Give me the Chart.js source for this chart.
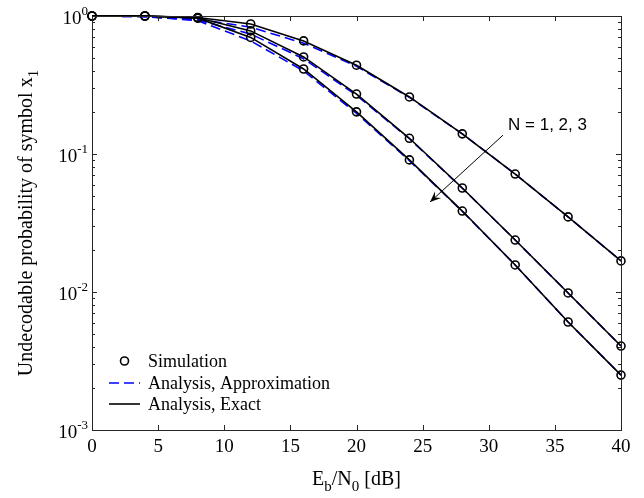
<!DOCTYPE html>
<html>
<head>
<meta charset="utf-8">
<script src="https://cdn.jsdelivr.net/npm/chart.js@4/dist/chart.umd.min.js"></script>
<style>
html,body{margin:0;padding:0;background:#fff;}
#c{display:block;}
</style>
</head>
<body>
<canvas id="c" width="644" height="498"></canvas>
<script>
// ---- data ----
const ebn0 = [0, 4, 8, 12, 16, 20, 24, 28, 32, 36, 40];
const simN1 = [1, 1, 0.975, 0.875, 0.66, 0.44, 0.259, 0.140, 0.0716, 0.035, 0.0168];
const simN2 = [1, 1, 0.97, 0.78, 0.505, 0.272, 0.130, 0.0567, 0.0238, 0.00984, 0.00406];
const simN3 = [1, 1, 0.965, 0.70, 0.413, 0.202, 0.0906, 0.0386, 0.0157, 0.00606, 0.0025];
const exactN1 = [1, 1, 0.975, 0.875, 0.66, 0.44, 0.259, 0.140, 0.0716, 0.035, 0.0168];
const exactN2 = [1, 1, 0.97, 0.78, 0.505, 0.272, 0.130, 0.0567, 0.0238, 0.00984, 0.00406];
const exactN3 = [1, 1, 0.965, 0.70, 0.413, 0.202, 0.0906, 0.0386, 0.0157, 0.00606, 0.0025];
const approxN1 = [1, 0.995, 0.95, 0.83, 0.635, 0.432, 0.257, 0.140, 0.0716, 0.035, 0.0168];
const approxN2 = [1, 0.99, 0.935, 0.74, 0.49, 0.266, 0.129, 0.0565, 0.0238, 0.00984, 0.00406];
const approxN3 = [1, 0.99, 0.925, 0.66, 0.40, 0.197, 0.0895, 0.0384, 0.0157, 0.00606, 0.0025];
const xTicks = [0, 5, 10, 15, 20, 25, 30, 35, 40];
const yDecades = [0, -1, -2, -3];
const legendLabels = ['Simulation', 'Analysis, Approximation', 'Analysis, Exact'];
const xTitle = ['E', 'b', '/N', '0', ' [dB]'];
const yTitle = 'Undecodable probability of symbol x';
const annotationText = 'N = 1, 2, 3';
// annotation anchor in data coordinates
const annText = {x: 31.46, y: 0.149};
const annFrom = {x: 31.08, y: 0.137};
const annTo = {x: 25.56, y: 0.0449};

const pts = (ys) => ebn0.map((x, i) => ({x: x, y: ys[i]}));

const approxStyle = {borderColor: '#0000ff', borderWidth: 1.6, borderDash: [10, 5], pointRadius: 0, fill: false, tension: 0, order: 3, clip: false};
const exactStyle = {borderColor: '#000000', borderWidth: 1.6, pointRadius: 0, fill: false, tension: 0, order: 2, clip: false};
const simStyle = {showLine: false, pointRadius: 4, pointBorderWidth: 1.6, pointBorderColor: '#000', pointBackgroundColor: 'rgba(0,0,0,0)', pointStyle: 'circle', order: 1, clip: false};

const datasets = [
  Object.assign({label: 'approx N1', data: pts(approxN1)}, approxStyle),
  Object.assign({label: 'approx N2', data: pts(approxN2)}, approxStyle),
  Object.assign({label: 'approx N3', data: pts(approxN3)}, approxStyle),
  Object.assign({label: 'exact N1', data: pts(exactN1)}, exactStyle),
  Object.assign({label: 'exact N2', data: pts(exactN2)}, exactStyle),
  Object.assign({label: 'exact N3', data: pts(exactN3)}, exactStyle),
  Object.assign({label: 'sim N1', data: pts(simN1)}, simStyle),
  Object.assign({label: 'sim N2', data: pts(simN2)}, simStyle),
  Object.assign({label: 'sim N3', data: pts(simN3)}, simStyle)
];

const SERIF = '"Liberation Serif", "Times New Roman", serif';
const SANS = '"Liberation Sans", Arial, sans-serif';
const AXC = '#262626';

const decor = {
  id: 'decor',
  afterDatasetsDraw(chart) {
    const ctx = chart.ctx;
    const a = chart.chartArea;
    const xs = chart.scales.x, ys = chart.scales.y;
    ctx.save();
    // box
    ctx.strokeStyle = AXC;
    ctx.lineWidth = 1;
    ctx.strokeRect(Math.round(a.left) + 0.5, Math.round(a.top) + 0.5, Math.round(a.right - a.left), Math.round(a.bottom - a.top));
    // x ticks
    ctx.beginPath();
    xTicks.forEach(v => {
      const px = Math.round(xs.getPixelForValue(v)) + 0.5;
      ctx.moveTo(px, a.bottom); ctx.lineTo(px, a.bottom - 5);
      ctx.moveTo(px, a.top); ctx.lineTo(px, a.top + 5);
    });
    // y ticks (major + minor)
    yDecades.forEach(d => {
      for (let m = 1; m <= 9; m++) {
        const v = m * Math.pow(10, d);
        if (v > 1.0000001 || v < 0.0009999) continue;
        const py = Math.round(ys.getPixelForValue(v)) + 0.5;
        const len = m === 1 ? 5 : 3;
        ctx.moveTo(a.left, py); ctx.lineTo(a.left + len, py);
        ctx.moveTo(a.right, py); ctx.lineTo(a.right - len, py);
      }
    });
    ctx.stroke();
    // x tick labels
    ctx.fillStyle = '#000';
    ctx.font = '19px ' + SERIF;
    ctx.textAlign = 'center';
    ctx.textBaseline = 'alphabetic';
    xTicks.forEach(v => {
      ctx.fillText(String(v), xs.getPixelForValue(v), a.bottom + 22);
    });
    // y tick labels 10^d
    yDecades.forEach(d => {
      const py = ys.getPixelForValue(Math.pow(10, d));
      const sup = String(d);
      ctx.font = '13px ' + SERIF;
      const sw = ctx.measureText(sup).width;
      ctx.font = '19px ' + SERIF;
      const bw = ctx.measureText('10').width;
      const right = a.left - 4;
      ctx.textAlign = 'left';
      ctx.fillText('10', right - sw - bw, py + 8);
      ctx.font = '13px ' + SERIF;
      ctx.fillText(sup, right - sw, py - 1);
    });
    // x title with subscripts
    {
      const parts = [['E', 0], ['b', 1], ['/N', 0], ['0', 1], [' [dB]', 0]];
      let total = 0;
      parts.forEach(p => { ctx.font = (p[1] ? '15px ' : '20px ') + SERIF; total += ctx.measureText(p[0]).width; });
      let x = (a.left + a.right) / 2 - total / 2;
      const base = a.bottom + 55;
      ctx.textAlign = 'left';
      parts.forEach(p => {
        ctx.font = (p[1] ? '15px ' : '20px ') + SERIF;
        ctx.fillText(p[0], x, base + (p[1] ? 6 : 0));
        x += ctx.measureText(p[0]).width;
      });
    }
    // y title rotated
    {
      ctx.save();
      ctx.translate(32, (a.top + a.bottom) / 2);
      ctx.rotate(-Math.PI / 2);
      ctx.font = '20px ' + SERIF;
      const w1 = ctx.measureText(yTitle).width;
      ctx.font = '15px ' + SERIF;
      const w2 = ctx.measureText('1').width;
      const total = w1 + w2;
      ctx.textAlign = 'left';
      ctx.font = '20px ' + SERIF;
      ctx.fillText(yTitle, -total / 2, 0);
      ctx.font = '15px ' + SERIF;
      ctx.fillText('1', -total / 2 + w1, 6);
      ctx.restore();
    }
    // legend
    {
      const lx0 = a.left + 17, lx1 = a.left + 48, tx = a.left + 56;
      const rows = [a.bottom - 69, a.bottom - 47, a.bottom - 26];
      ctx.font = '18px ' + SERIF;
      ctx.textAlign = 'left';
      ctx.textBaseline = 'middle';
      // simulation marker
      ctx.beginPath();
      ctx.lineWidth = 1.6;
      ctx.strokeStyle = '#000';
      ctx.arc((lx0 + lx1) / 2, rows[0], 4, 0, Math.PI * 2);
      ctx.stroke();
      // approx
      ctx.beginPath();
      ctx.strokeStyle = '#0000ff';
      ctx.setLineDash([10, 5]);
      ctx.moveTo(lx0, rows[1]); ctx.lineTo(lx1, rows[1]);
      ctx.stroke();
      ctx.setLineDash([]);
      // exact
      ctx.beginPath();
      ctx.strokeStyle = '#000';
      ctx.moveTo(lx0, rows[2]); ctx.lineTo(lx1, rows[2]);
      ctx.stroke();
      legendLabels.forEach((t, i) => ctx.fillText(t, tx, rows[i] + 1));
    }
    // annotation
    {
      const fx = xs.getPixelForValue(annFrom.x), fy = ys.getPixelForValue(annFrom.y);
      const tx = xs.getPixelForValue(annTo.x), ty = ys.getPixelForValue(annTo.y);
      ctx.strokeStyle = '#000';
      ctx.lineWidth = 1;
      ctx.beginPath();
      ctx.moveTo(fx, fy); ctx.lineTo(tx, ty);
      ctx.stroke();
      const ang = Math.atan2(ty - fy, tx - fx);
      const L = 11, W = 4.5;
      const bx = tx - L * Math.cos(ang), by = ty - L * Math.sin(ang);
      const nx = -Math.sin(ang), ny = Math.cos(ang);
      const ix = tx - 0.6 * L * Math.cos(ang), iy = ty - 0.6 * L * Math.sin(ang);
      ctx.fillStyle = '#000';
      ctx.beginPath();
      ctx.moveTo(tx, ty);
      ctx.lineTo(bx + nx * W, by + ny * W);
      ctx.lineTo(ix, iy);
      ctx.lineTo(bx - nx * W, by - ny * W);
      ctx.closePath();
      ctx.fill();
      ctx.font = '17px ' + SANS;
      ctx.textAlign = 'left';
      ctx.textBaseline = 'alphabetic';
      ctx.fillText(annotationText, xs.getPixelForValue(annText.x), ys.getPixelForValue(annText.y));
    }
    ctx.restore();
  }
};

new Chart(document.getElementById('c'), {
  type: 'line',
  data: {datasets: datasets},
  options: {
    responsive: false,
    animation: false,
    events: [],
    layout: {padding: {left: 92, right: 23, top: 16, bottom: 68}},
    plugins: {legend: {display: false}, tooltip: {enabled: false}},
    scales: {
      x: {type: 'linear', min: 0, max: 40, display: false},
      y: {type: 'logarithmic', min: 0.001, max: 1, display: false}
    }
  },
  plugins: [decor]
});
</script>
</body>
</html>
